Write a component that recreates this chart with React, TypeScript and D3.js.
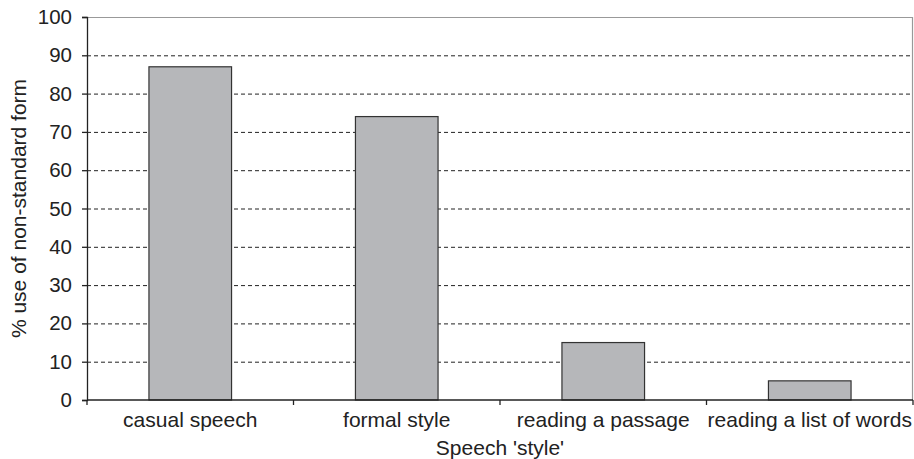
import { useEffect, useRef } from 'react';
import * as d3 from 'd3';

const categories = ['casual speech', 'formal style', 'reading a passage', 'reading a list of words'];
const values = [87, 74, 15, 5];
const yTicks = [0, 10, 20, 30, 40, 50, 60, 70, 80, 90, 100];

export default function App() {
  const svgRef = useRef<SVGSVGElement>(null);

  useEffect(() => {
    if (!svgRef.current) return;
    const svg = d3.select(svgRef.current);
    svg.selectAll('*').remove();

    const margin = { top: 17, right: 1, bottom: 59, left: 87 };
    const width = 914;
    const height = 459;
    const innerWidth = width - margin.left - margin.right;
    const innerHeight = height - margin.top - margin.bottom;
    const font = '"Liberation Sans", Arial, sans-serif';
    const fs = '21px';

    const g = svg.append('g').attr('transform', `translate(${margin.left},${margin.top})`);

    const x = d3.scaleBand().domain(categories).range([0, innerWidth]).paddingInner(0.6).paddingOuter(0.3);
    const y = d3.scaleLinear().domain([0, 100]).range([innerHeight, 0]);

    // grid lines
    g.selectAll('.grid')
      .data(yTicks.filter(t => t > 0 && t < 100))
      .enter().append('line')
      .attr('x1', 0)
      .attr('x2', innerWidth)
      .attr('y1', d => y(d) + 0.5)
      .attr('y2', d => y(d) + 0.5)
      .attr('stroke', '#222')
      .attr('stroke-width', 1)
      .attr('stroke-dasharray', '4,3');

    // top and right frame
    g.append('line')
      .attr('x1', 0).attr('x2', innerWidth)
      .attr('y1', y(100) + 0.5).attr('y2', y(100) + 0.5)
      .attr('stroke', '#999').attr('stroke-width', 1.2);
    g.append('line')
      .attr('x1', innerWidth - 0.5).attr('x2', innerWidth - 0.5)
      .attr('y1', 0).attr('y2', innerHeight)
      .attr('stroke', '#999').attr('stroke-width', 1.2);

    // bars
    g.selectAll('.bar')
      .data(values)
      .enter().append('rect')
      .attr('x', (d, i) => (x(categories[i]) || 0))
      .attr('y', d => y(d))
      .attr('width', x.bandwidth())
      .attr('height', d => innerHeight - y(d))
      .attr('fill', '#b6b7ba')
      .attr('stroke', '#333')
      .attr('stroke-width', 1.2);

    // y axis
    const yAxis = g.append('g')
      .call(d3.axisLeft(y).tickValues(yTicks).tickSize(5).tickPadding(10));
    yAxis.select('.domain').attr('stroke', '#222').attr('stroke-width', 1.3);
    yAxis.selectAll('line').attr('stroke', '#222').attr('stroke-width', 1.3);
    yAxis.selectAll('text')
      .style('font-family', font)
      .style('font-size', '20.5px')
      .attr('fill', '#222');

    // x axis with ticks at category boundaries
    const boundaries = d3.range(categories.length + 1).map(i => i * innerWidth / categories.length);
    const xAxis = g.append('g').attr('transform', `translate(0,${innerHeight})`);
    xAxis.append('line')
      .attr('x1', 0).attr('x2', innerWidth)
      .attr('y1', 0).attr('y2', 0)
      .attr('stroke', '#222').attr('stroke-width', 1.3);
    xAxis.selectAll('.btick')
      .data(boundaries)
      .enter().append('line')
      .attr('x1', d => d).attr('x2', d => d)
      .attr('y1', 0).attr('y2', 5)
      .attr('stroke', '#222').attr('stroke-width', 1.3);
    xAxis.selectAll('.xlabel')
      .data(categories)
      .enter().append('text')
      .attr('x', d => (x(d) || 0) + x.bandwidth() / 2)
      .attr('y', 27)
      .attr('text-anchor', 'middle')
      .style('font-family', font)
      .style('font-size', fs)
      .attr('fill', '#222')
      .text(d => d);

    // axis titles
    svg.append('text')
      .attr('x', margin.left + innerWidth / 2)
      .attr('y', 455)
      .attr('text-anchor', 'middle')
      .style('font-family', font)
      .style('font-size', fs)
      .attr('fill', '#222')
      .text("Speech 'style'");

    svg.append('text')
      .attr('transform', `translate(26,${margin.top + innerHeight / 2}) rotate(-90)`)
      .attr('text-anchor', 'middle')
      .style('font-family', font)
      .style('font-size', fs)
      .attr('fill', '#222')
      .text('% use of non-standard form');
  }, []);

  return (
    <svg
      ref={svgRef}
      width={914}
      height={459}
      style={{ position: 'absolute', left: 0, top: 0, background: '#fff' }}
    />
  );
}
